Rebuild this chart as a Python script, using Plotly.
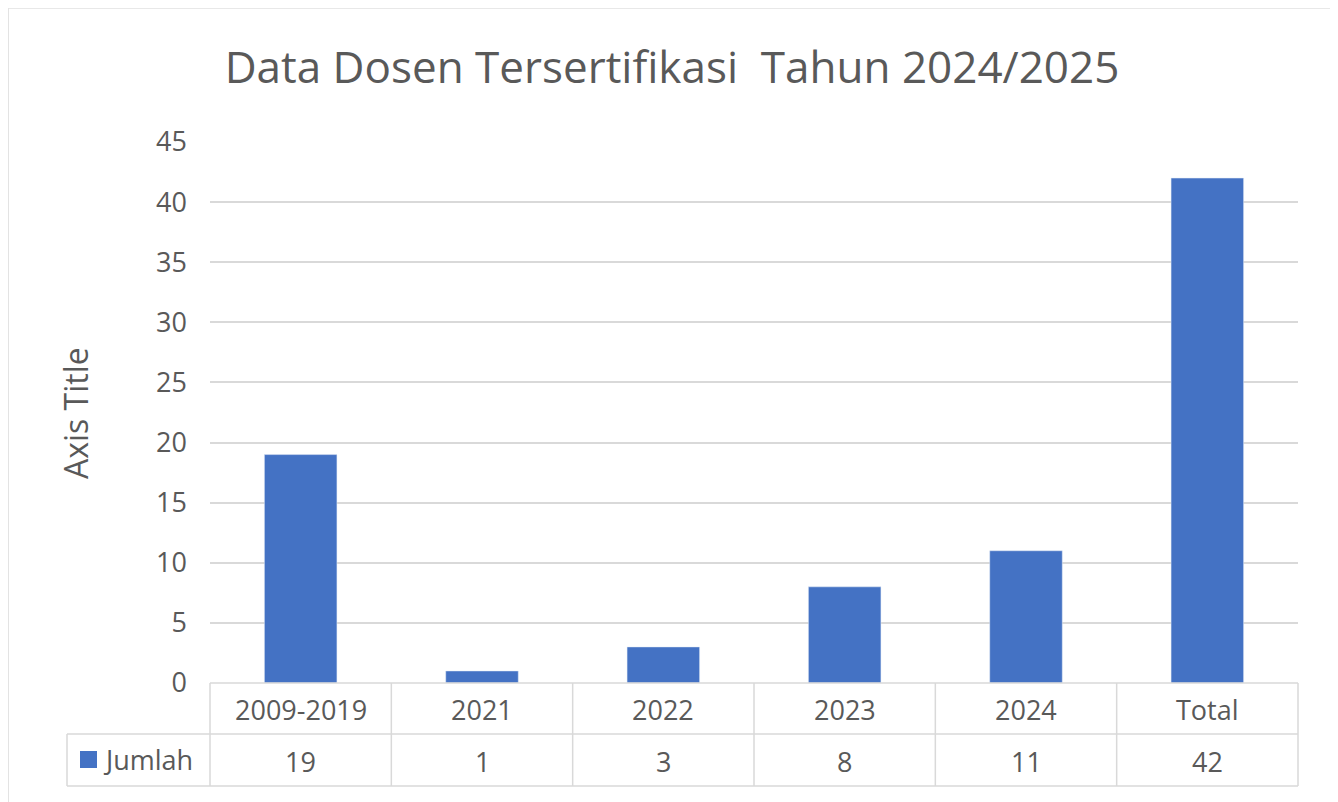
import plotly.graph_objects as go

categories = ["2009-2019", "2021", "2022", "2023", "2024", "Total"]
jumlah = [19, 1, 3, 8, 11, 42]
series_name = "Jumlah"
title_text = "Data Dosen Tersertifikasi  Tahun 2024/2025"
y_title = "Axis Title"
y_ticks = [0, 5, 10, 15, 20, 25, 30, 35, 40, 45]

# the page adds an 8px body margin; lay out in window pixels and shift
OFF = 8
W, H = 1338 - OFF, 802 - OFF
PL, PR, PT, PB = 210, 1298, 142, 683  # plot area in window pixels
ML, MR, MT, MB = PL - OFF, W - (PR - OFF), PT - OFF, H - (PB - OFF)
PW, PH = PR - PL, PB - PT

def px(x):
    return (x - PL) / PW

def py(y):
    return (PB - y) / PH

BLUE = "#4472C4"
GRID = "#d9d9d9"
TXT = "#595959"
FONT = "Open Sans"

n = len(categories)
xs = list(range(n))

fig = go.Figure()
fig.add_trace(go.Bar(x=xs, y=jumlah, name=series_name, marker_color=BLUE,
                     width=0.4, showlegend=False))

shapes = []
# outer frame
shapes.append(dict(type="line", xref="paper", yref="paper", x0=px(1334), x1=px(1334),
                   y0=py(810), y1=py(8), line=dict(color="#e3e3e3", width=1.5)))
shapes.append(dict(type="line", xref="paper", yref="paper", x0=px(8), x1=px(1334),
                   y0=py(8.5), y1=py(8.5), line=dict(color="#e8e8e8", width=1)))
shapes.append(dict(type="line", xref="paper", yref="paper", x0=px(8.5), x1=px(8.5),
                   y0=py(810), y1=py(8), line=dict(color="#e3e3e3", width=1)))

# data table lines
y_top, y_mid, y_bot = 683, 734, 786
tl = dict(color=GRID, width=1.5)
shapes.append(dict(type="line", xref="x domain", yref="paper", x0=0, x1=1,
                   y0=py(y_top), y1=py(y_top), line=tl))
shapes.append(dict(type="line", xref="paper", yref="paper", x0=px(67), x1=1,
                   y0=py(y_mid), y1=py(y_mid), line=tl))
shapes.append(dict(type="line", xref="paper", yref="paper", x0=px(67), x1=1,
                   y0=py(y_bot), y1=py(y_bot), line=tl))
for i in range(n + 1):
    shapes.append(dict(type="line", xref="x domain", yref="paper", x0=i / n, x1=i / n,
                       y0=py(y_bot), y1=py(y_top), line=tl))
shapes.append(dict(type="line", xref="paper", yref="paper", x0=px(67), x1=px(67),
                   y0=py(y_bot), y1=py(y_mid), line=tl))
# legend key
shapes.append(dict(type="rect", xref="paper", yref="paper", x0=px(80), x1=px(97),
                   y0=py(768), y1=py(751), fillcolor=BLUE, line=dict(width=0)))

cell_font = dict(size=27, color=TXT, family=FONT)
annotations = []
for i, c in enumerate(categories):
    annotations.append(dict(x=xs[i], y=py((y_top + y_mid) / 2 + 1), xref="x", yref="paper",
                            text=c, showarrow=False, yanchor="middle", font=cell_font))
    annotations.append(dict(x=xs[i], y=py((y_mid + y_bot) / 2 + 1), xref="x", yref="paper",
                            text=str(jumlah[i]), showarrow=False, yanchor="middle",
                            font=cell_font))
annotations.append(dict(x=px(101), y=py((y_mid + y_bot) / 2 - 1), xref="paper", yref="paper",
                        text=series_name, showarrow=False, xanchor="left", yanchor="middle",
                        font=cell_font))
annotations.append(dict(x=px(75), y=py(413), xref="paper", yref="paper", text=y_title,
                        textangle=-90, showarrow=False, xanchor="center", yanchor="middle",
                        font=dict(size=32, color=TXT, family=FONT)))

fig.update_layout(
    width=W, height=H,
    margin=dict(l=ML, r=MR, t=MT, b=MB, autoexpand=False),
    paper_bgcolor="white", plot_bgcolor="white",
    title=dict(text=title_text, x=(672 - OFF) / W, xref="container", xanchor="center",
               y=1 - (68 - OFF) / H, yref="container", yanchor="middle",
               font=dict(size=44, color=TXT, family=FONT)),
    xaxis=dict(range=[-0.5, n - 0.5], showticklabels=False, showgrid=False,
               zeroline=False, showline=False, ticks=""),
    yaxis=dict(range=[0, 45], tickvals=y_ticks, showgrid=True, gridcolor=GRID,
               gridwidth=1.5, zeroline=False, showline=False, ticks="",
               ticklabelstandoff=22,
               tickfont=dict(size=27, color=TXT, family=FONT)),
    shapes=shapes, annotations=annotations,
)

fig.write_html("out.html")
